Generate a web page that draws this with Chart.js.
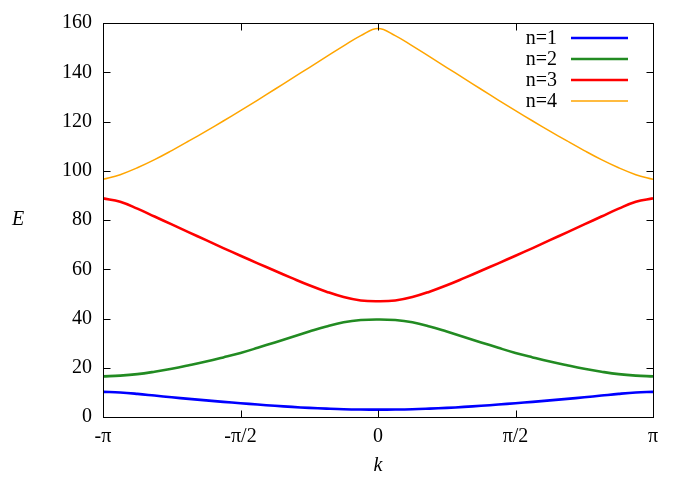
<!DOCTYPE html>
<html>
<head>
<meta charset="utf-8">
<script src="https://cdn.jsdelivr.net/npm/chart.js@4/dist/chart.umd.min.js"></script>
<style>
  html, body { margin: 0; padding: 0; background: #fff; }
  #wrap { width: 692px; height: 485px; position: relative; }
</style>
</head>
<body>
<div id="wrap"><canvas id="c" width="692" height="485"></canvas></div>
<script>
// k values in units of pi
const kOverPi = [-1,-0.9375,-0.875,-0.8125,-0.75,-0.6875,-0.625,-0.5625,-0.5,-0.4375,-0.375,-0.3125,-0.25,-0.1875,-0.125,-0.0625,0,
                 0.0625,0.125,0.1875,0.25,0.3125,0.375,0.4375,0.5,0.5625,0.625,0.6875,0.75,0.8125,0.875,0.9375,1];
const seriesNames = ['n=1','n=2','n=3','n=4'];
const band1 = [10.2,9.95,9.4,8.7,8.0,7.35,6.75,6.15,5.6,5.05,4.55,4.1,3.7,3.4,3.15,3.03,3.0,
               3.03,3.15,3.4,3.7,4.1,4.55,5.05,5.6,6.15,6.75,7.35,8.0,8.7,9.4,9.95,10.2];
const band2 = [16.5,16.8,17.4,18.4,19.6,21.0,22.5,24.2,26.0,28.1,30.3,32.5,34.7,36.8,38.5,39.4,39.6,
               39.4,38.5,36.8,34.7,32.5,30.3,28.1,26.0,24.2,22.5,21.0,19.6,18.4,17.4,16.8,16.5];
const band3 = [88.8,87.4,84.6,81.4,78.2,75.0,71.8,68.6,65.5,62.4,59.4,56.4,53.5,50.9,48.7,47.3,47.0,
               47.3,48.7,50.9,53.5,56.4,59.4,62.4,65.5,68.6,71.8,75.0,78.2,81.4,84.6,87.4,88.8];
const band4 = [96.5,98.4,101.2,104.5,108.2,112.1,116.1,120.2,124.4,128.7,133.1,137.5,141.9,146.3,150.7,154.9,157.8,
               154.9,150.7,146.3,141.9,137.5,133.1,128.7,124.4,120.2,116.1,112.1,108.2,104.5,101.2,98.4,96.5];
const xTickPi = [-1,-0.5,0,0.5,1];
const xTickLabels = ['-\u03c0','-\u03c0/2','0','\u03c0/2','\u03c0'];
const yTicks = [0,20,40,60,80,100,120,140,160];

const colors = ['#0000ff','#228b22','#ff0000','#ffa500'];
const widths = [2.6,2.6,2.6,1.5];
const bands = [band1,band2,band3,band4];
const PI = Math.PI;
const FONT = "'Liberation Serif','DejaVu Serif',serif";

const datasets = bands.map((b,i)=>({
  label: seriesNames[i],
  data: b.map((v,j)=>({x:kOverPi[j]*PI, y:v})),
  borderColor: colors[i],
  borderWidth: widths[i],
  pointRadius: 0,
  fill: false,
  tension: 0.4
}));

const framePlugin = {
  id: 'frame',
  afterDatasetsDraw(chart) {
    const {ctx, chartArea: a, scales} = chart;
    ctx.save();
    ctx.strokeStyle = '#000';
    ctx.lineWidth = 1;
    const L = Math.round(a.left)+0.5, R = Math.round(a.right)+0.5, T = Math.round(a.top)+0.5, B = Math.round(a.bottom)+0.5;
    ctx.beginPath();
    yTicks.forEach(v=>{
      const y = Math.round(scales.y.getPixelForValue(v))+0.5;
      ctx.moveTo(L,y); ctx.lineTo(L+7,y);
      ctx.moveTo(R,y); ctx.lineTo(R-7,y);
    });
    xTickPi.forEach(v=>{
      const x = Math.round(scales.x.getPixelForValue(v*PI))+0.5;
      ctx.moveTo(x,B); ctx.lineTo(x,B-7);
      ctx.moveTo(x,T); ctx.lineTo(x,T+7);
    });
    ctx.stroke();
    ctx.strokeRect(L,T,R-L,B-T);
    // axis titles
    ctx.fillStyle = '#000';
    ctx.font = "italic 20px " + FONT;
    ctx.textAlign = 'center';
    ctx.textBaseline = 'middle';
    ctx.fillText('E', 18, 220);
    ctx.fillText('k', (a.left+a.right)/2, 466);
    // legend
    ctx.font = "20px " + FONT;
    ctx.textAlign = 'right';
    const rows = [38,59,80,101];
    seriesNames.forEach((n,i)=>{
      ctx.fillStyle = '#000';
      ctx.fillText(n, 557, rows[i]+1);
      ctx.strokeStyle = colors[i];
      ctx.lineWidth = widths[i];
      ctx.beginPath();
      ctx.moveTo(571, rows[i]); ctx.lineTo(628, rows[i]);
      ctx.stroke();
    });
    ctx.restore();
  }
};

new Chart(document.getElementById('c'), {
  type: 'line',
  data: { datasets },
  options: {
    responsive: false,
    animation: false,
    devicePixelRatio: 1,
    layout: { padding: { left: 0, right: 39, top: 21, bottom: 0 } },
    plugins: { legend: { display: false }, tooltip: { enabled: false } },
    scales: {
      x: {
        type: 'linear',
        min: -PI, max: PI,
        afterBuildTicks: s => { s.ticks = xTickPi.map(v=>({value: v*PI})); },
        afterFit: s => { s.height = 68; },
        ticks: {
          color: '#000',
          font: { family: FONT, size: 20 },
          padding: 8,
          maxRotation: 0,
          callback: (v) => {
            const i = xTickPi.findIndex(t => Math.abs(t*PI - v) < 1e-6);
            return i >= 0 ? xTickLabels[i] : '';
          }
        },
        grid: { display: false, drawTicks: false },
        border: { display: false }
      },
      y: {
        type: 'linear',
        min: 0, max: 160,
        afterBuildTicks: s => { s.ticks = yTicks.map(v=>({value:v})); },
        afterFit: s => { s.width = 103; },
        ticks: {
          color: '#000',
          font: { family: FONT, size: 20 },
          padding: 11
        },
        grid: { display: false, drawTicks: false },
        border: { display: false }
      }
    }
  },
  plugins: [framePlugin]
});
</script>
</body>
</html>
